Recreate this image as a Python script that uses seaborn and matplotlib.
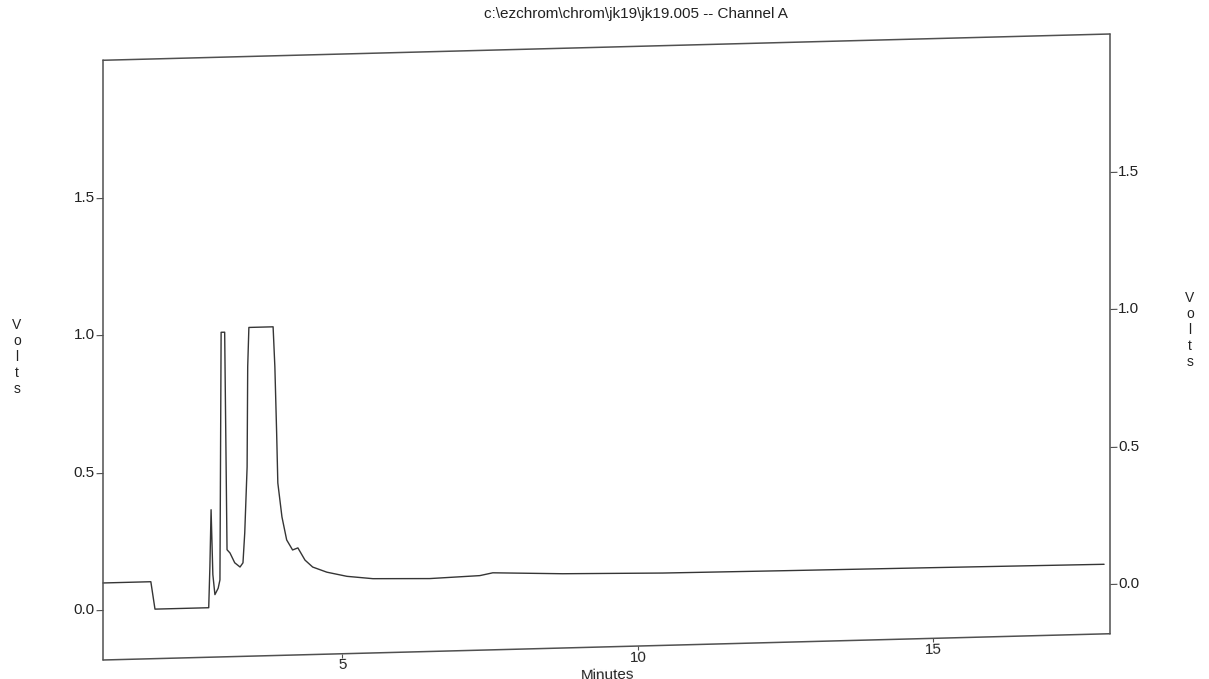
import numpy as np
import pandas as pd
import seaborn as sns
import matplotlib
matplotlib.use("Agg")
import matplotlib.pyplot as plt
from matplotlib.transforms import Affine2D
import mpl_toolkits.axisartist.floating_axes as floating_axes
from mpl_toolkits.axisartist.grid_finder import FixedLocator, DictFormatter

time_min = [0.95, 1.76, 1.83, 2.74, 2.76, 2.78, 2.81, 2.845, 2.90, 2.93,
            2.95, 3.01, 3.05, 3.10, 3.18, 3.27, 3.32, 3.35, 3.39, 3.40,
            3.42, 3.83, 3.86, 3.89, 3.91, 3.98, 4.06, 4.16, 4.25, 4.37,
            4.50, 4.74, 5.08, 5.52, 6.48, 7.33, 7.55, 8.73, 10.43, 12.5,
            15.0, 17.9]
volts = [0.10, 0.10, 0.0, 0.0, 0.15, 0.356, 0.12, 0.047, 0.07, 0.10,
         1.00, 1.00, 0.209, 0.197, 0.161, 0.145, 0.16, 0.269, 0.508, 0.872,
         1.015, 1.015, 0.869, 0.629, 0.447, 0.323, 0.239, 0.202, 0.209, 0.164,
         0.138, 0.118, 0.101, 0.09, 0.085, 0.091, 0.10, 0.09, 0.083, 0.08,
         0.077, 0.073]

x_ticks = [5, 10, 15]
x_tick_labels = ["5", "10", "15"]
y_ticks = [0.0, 0.5, 1.0, 1.5]
y_tick_labels = ["0.0", "0.5", "1.0", "1.5"]

title = "c:\\ezchrom\\chrom\\jk19\\jk19.005 -- Channel A"

df = pd.DataFrame({"Minutes": time_min, "Volts": volts})

sns.set_style("white")
plt.rcParams['font.family'] = ['Liberation Sans', 'DejaVu Sans']

line_color = "#353535"
frame_color = "#505050"
text_color = "#222222"

# limites do quadro e inclinação da digitalização
x0, x1 = 0.95, 18.0
y0, y1 = -0.18, 2.0
k = 0.0056  # volts por minuto (folha escaneada torta)

tr = Affine2D(np.array([[1.0, 0.0, 0.0], [k, 1.0, 0.0], [0.0, 0.0, 1.0]]))

grid_helper = floating_axes.GridHelperCurveLinear(
    tr, extremes=(x0, x1, y0, y1),
    grid_locator1=FixedLocator(x_ticks),
    grid_locator2=FixedLocator(y_ticks),
    tick_formatter1=DictFormatter(dict(zip(x_ticks, x_tick_labels))),
    tick_formatter2=DictFormatter(dict(zip(y_ticks, y_tick_labels))),
)

fig = plt.figure(figsize=(12.09, 6.79), dpi=100)
W, H = 1209, 679
left, right, top, bottom = 103, 1110, 34, 660
pad_px = 4  # folga para a moldura não ficar cortada na borda
px_x = (x1 - x0) / (right - left)
yb, yt = y0 + k * x0, y1 + k * x1
px_y = (yt - yb) / (bottom - top)
ax = fig.add_axes([(left - pad_px) / W, 1 - (bottom + pad_px) / H,
                   (right - left + 2 * pad_px) / W, (bottom - top + 2 * pad_px) / H],
                  axes_class=floating_axes.FloatingAxes, grid_helper=grid_helper)
ax.set_aspect("auto")
ax.set_xlim(x0 - pad_px * px_x, x1 + pad_px * px_x)
ax.set_ylim(yb - pad_px * px_y, yt + pad_px * px_y)
ax.patch.set_facecolor("white")

aux = ax.get_aux_axes(tr)
sns.lineplot(data=df, x="Minutes", y="Volts", ax=aux, color=line_color,
             linewidth=1.0, estimator=None, sort=False, legend=False)

for side in ["left", "right", "bottom", "top"]:
    axis = ax.axis[side]
    axis.line.set_color(frame_color)
    axis.line.set_linewidth(1.1)
    axis.major_ticks.set_color(frame_color)
    axis.major_ticks.set_tick_out(True)
    axis.major_ticks.set_ticksize(5)
    axis.major_ticklabels.set_fontsize(11)
    axis.major_ticklabels.set_color(text_color)
    axis.major_ticklabels.set_pad(1)

ax.axis["bottom"].major_ticks.set_ticksize(3)
ax.axis["top"].toggle(ticks=False, ticklabels=False, label=False)
ax.axis["right"].toggle(ticks=True, ticklabels=True, label=False)
ax.axis["left"].toggle(label=False)
ax.axis["bottom"].label.set_text("Minutes")
ax.axis["bottom"].label.set_fontsize(11)
ax.axis["bottom"].label.set_color(text_color)
ax.axis["bottom"].label.set_pad(4)

fig.text(636 / W, 1 - 14 / H, title, ha="center", va="center",
         fontsize=11, color=text_color)
fig.text(17 / W, 1 - 357 / H, "V\no\nl\nt\ns", ha="center", va="center",
         fontsize=10, linespacing=1.17, color=text_color)
fig.text(1190 / W, 1 - 330 / H, "V\no\nl\nt\ns", ha="center", va="center",
         fontsize=10, linespacing=1.17, color=text_color)

plt.savefig("out.png", dpi=100)
